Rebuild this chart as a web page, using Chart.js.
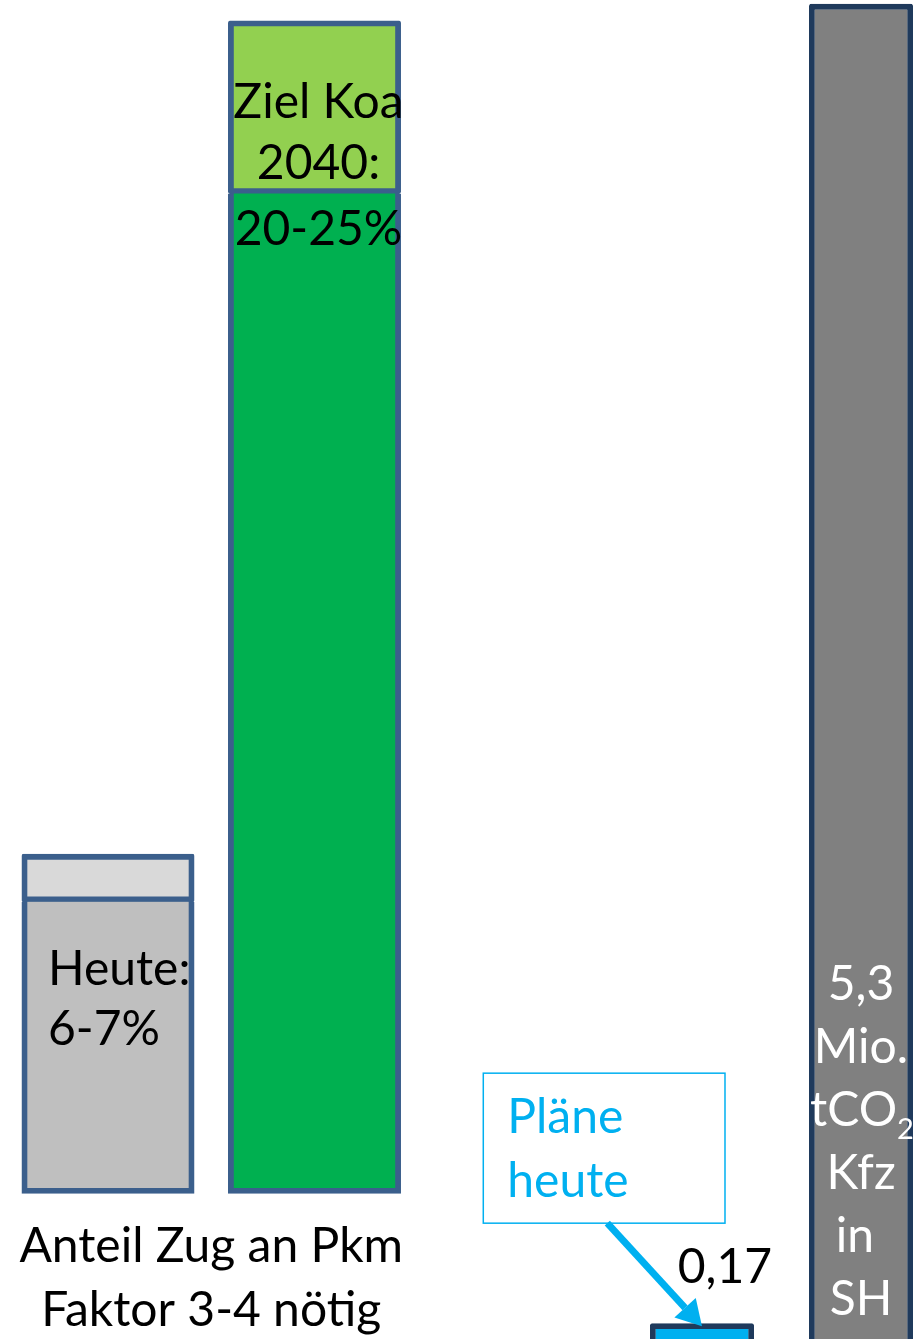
<!DOCTYPE html>
<html>
<head>
<meta charset="utf-8">
<script src="https://cdn.jsdelivr.net/npm/chart.js@4.4.1/dist/chart.umd.min.js"></script>
<style>
  html, body { margin: 0; padding: 0; background: #fff; }
  canvas { display: block; }
</style>
</head>
<body>
<canvas id="chart" width="919" height="1339"></canvas>
<script>
// Werte
const categories = [['Anteil Zug an Pkm', 'Faktor 3-4 nötig'], ''];
const anteilHeute = [5.83, null];        // % Zug an Pkm heute (6-7%)
const anteilHeuteSpanne = [0.95, null];
const anteilZiel = [20, null];           // Ziel Koa 2040 (20-25%)
const anteilZielSpanne = [3.45, null];
const co2Plaene = [null, 0.17];          // Mio. t CO2, Pläne heute
const co2Kfz = [null, 5.3];              // Mio. t CO2 Kfz in SH

const FONT = 'Lato, "Open Sans", sans-serif';
const BLUE = '#00b0f0';
const EDGE = '#3b5f8c';
const NAVY = '#1f3a5c';

Chart.defaults.font.family = FONT;

function drawLines(ctx, lines, x, y0, step, align) {
    ctx.textAlign = align;
    lines.forEach((t, i) => ctx.fillText(t, x, y0 + i * step));
}

const barTexts = {
    id: 'barTexts',
    afterDatasetsDraw(chart) {
        const ctx = chart.ctx;
        const heute = chart.getDatasetMeta(1).data[0];
        const ziel = chart.getDatasetMeta(3).data[0];
        const plaene = chart.getDatasetMeta(4).data[1];
        const kfz = chart.getDatasetMeta(5).data[1];

        ctx.save();
        ctx.font = '48px ' + FONT;
        ctx.textBaseline = 'alphabetic';

        // Heute
        ctx.fillStyle = '#000';
        drawLines(ctx, ['Heute:', '6-7%'], heute.x - heute.width / 2 + 26, heute.y + 131, 60, 'left');

        // Ziel
        ctx.textAlign = 'center';
        ctx.fillText('Ziel Koa', ziel.x + 4, ziel.y + 97);
        ctx.fillText('2040:', ziel.x + 4, ziel.y + 158);
        ctx.fillText('20-25%', ziel.x + 4, ziel.y + 224);

        // 0,17
        ctx.fillText('0,17', plaene.x + 23, plaene.y - 40);

        // Box "Pläne heute"
        const bx = plaene.x - 218.7, by = plaene.y - 250;
        ctx.strokeStyle = BLUE;
        ctx.lineWidth = 1.5;
        ctx.strokeRect(bx, by, 241.7, 150);
        ctx.fillStyle = BLUE;
        drawLines(ctx, ['Pläne', 'heute'], bx + 24, by + 60, 63.5, 'left');

        // Pfeil
        const sx = bx + 124, sy = by + 150;
        const tx = plaene.x, ty = plaene.y + 3;
        const ang = Math.atan2(ty - sy, tx - sx);
        const hl = 25, hw = 14.5;
        const hx = tx - hl * Math.cos(ang), hy = ty - hl * Math.sin(ang);
        ctx.lineWidth = 7;
        ctx.beginPath();
        ctx.moveTo(sx, sy);
        ctx.lineTo(hx, hy);
        ctx.stroke();
        ctx.beginPath();
        ctx.moveTo(tx, ty);
        ctx.lineTo(hx + hw * Math.sin(ang), hy - hw * Math.cos(ang));
        ctx.lineTo(hx - hw * Math.sin(ang), hy + hw * Math.cos(ang));
        ctx.closePath();
        ctx.fill();

        // Kfz in SH
        ctx.fillStyle = '#fff';
        ctx.textAlign = 'center';
        const kx = kfz.x, k0 = kfz.base - 367;
        ctx.fillText('5,3', kx, k0);
        ctx.fillText('Mio.', kx, k0 + 63);
        const wT = ctx.measureText('tCO').width;
        ctx.font = '29px ' + FONT;
        const wS = ctx.measureText('2').width;
        const left = kx - (wT + wS) / 2 + 1;
        ctx.textAlign = 'left';
        ctx.fillText('2', left + wT, k0 + 126 + 13);
        ctx.font = '48px ' + FONT;
        ctx.fillText('tCO', left, k0 + 126);
        ctx.textAlign = 'center';
        ctx.fillText('Kfz', kx, k0 + 189);
        ctx.fillText('in ', kx, k0 + 252);
        ctx.fillText('SH', kx, k0 + 315);
        ctx.restore();
    }
};

const groupA = { categoryPercentage: 0.7242, barPercentage: 0.8329, borderColor: EDGE, borderWidth: 5.8, borderRadius: 2, yAxisID: 'y', clip: false, inflateAmount: 0.5 };
const groupB = { categoryPercentage: 0.5577, barPercentage: 0.6541, borderColor: NAVY, borderWidth: 5.8, borderRadius: 2, yAxisID: 'y2', base: 0, clip: false, borderSkipped: false };

new Chart(document.getElementById('chart'), {
    type: 'bar',
    data: {
        labels: categories,
        datasets: [
            Object.assign({ label: 'Heute', data: anteilHeute, stack: 'a', backgroundColor: '#bfbfbf', borderSkipped: 'top' }, groupA),
            Object.assign({ label: 'Heute Spanne', data: anteilHeuteSpanne, stack: 'a', backgroundColor: '#d9d9d9', borderSkipped: false }, groupA),
            Object.assign({ label: 'Ziel Koa 2040', data: anteilZiel, stack: 'b', backgroundColor: '#00b050', borderSkipped: 'top' }, groupA),
            Object.assign({ label: 'Ziel Spanne', data: anteilZielSpanne, stack: 'b', backgroundColor: '#92d050', borderSkipped: false }, groupA),
            Object.assign({ label: 'Pläne heute', data: co2Plaene, stack: 'a', backgroundColor: BLUE }, groupB),
            Object.assign({ label: 'Kfz in SH', data: co2Kfz, stack: 'b', backgroundColor: '#808080' }, groupB)
        ]
    },
    options: {
        responsive: false,
        animation: false,
        layout: { padding: { left: 211.25, right: 137.5, top: 0, bottom: 0 } },
        plugins: {
            legend: { display: false },
            tooltip: { enabled: false }
        },
        scales: {
            x: {
                offset: false,
                // tick marks are not drawn (grid off), tickLength only moves the labels down
                grid: { display: false, drawTicks: true, tickLength: 8 },
                border: { display: false },
                ticks: {
                    color: '#000',
                    autoSkip: false,
                    maxRotation: 0,
                    padding: 14,
                    font: { family: FONT, size: 48, lineHeight: 1.32 }
                },
                afterFit: (scale) => { scale.height = 145.7; }
            },
            y: { display: false, stacked: true, min: 0, max: 23.87 },
            y2: { display: false, position: 'right', min: 0.675, max: 5.315 }
        }
    },
    plugins: [barTexts]
});
</script>
</body>
</html>
